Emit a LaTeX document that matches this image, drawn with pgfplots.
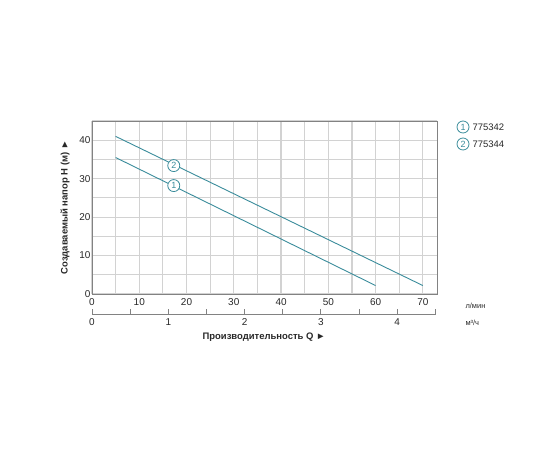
\documentclass[border=0pt]{standalone}
\usepackage{pgfplots}
\pgfplotsset{compat=1.18}
\usepackage{fontspec}
\setmainfont{Liberation Sans}
\definecolor{cl}{RGB}{58,140,155}
\definecolor{gridc}{RGB}{210,210,210}
\definecolor{framec}{RGB}{130,130,130}
\definecolor{txt}{RGB}{40,40,40}
\begin{document}
\begin{tikzpicture}[x=1bp,y=1bp]
\useasboundingbox (0,0) rectangle (560,460);
\begin{axis}[
  at={(92bp,166bp)}, anchor=south west,
  scale only axis, width=345bp, height=173bp,
  xmin=0, xmax=73, ymin=0, ymax=45,
  xtick={0,10,...,70}, ytick={0,10,...,40},
  minor xtick={5,15,...,65}, minor ytick={5,15,...,45},
  grid=both,
  major grid style={gridc, line width=1.2bp},
  minor grid style={gridc, line width=1.2bp},
  axis line style={framec, line width=0.8bp},
  tick style={draw=none},
  ticklabel style={font=\fontsize{10}{11}\selectfont, text=txt},
  /pgf/number format/assume math mode=true,
  xticklabel style={yshift=-1bp},
  yticklabel style={xshift=2bp},
  ylabel={\textbf{Создаваемый напор H (м) ►}},
  ylabel style={font=\fontsize{9.5}{11}\selectfont, text=txt, yshift=3bp},
  clip=false,
]
\addplot[cl, line width=0.9bp] coordinates {(5,35.5) (60,2.2)};
\addplot[cl, line width=0.9bp] coordinates {(5,41.0) (70,2.2)};
\node[circle, draw=cl, fill=white, line width=0.8bp, inner sep=0.6bp, minimum size=12bp, text=cl, font=\fontsize{9}{10}\selectfont] at (axis cs:17.3,33.4) {2};
\node[circle, draw=cl, fill=white, line width=0.8bp, inner sep=0.6bp, minimum size=12bp, text=cl, font=\fontsize{9}{10}\selectfont] at (axis cs:17.3,28.2) {1};
\end{axis}
\begin{axis}[
  at={(92bp,146bp)}, anchor=south west,
  scale only axis, width=344bp, height=10bp,
  xmin=0, xmax=4.51, ymin=0, ymax=1,
  axis x line*=bottom, hide y axis,
  xtick={0,1,2,3,4}, minor xtick={0.5,1.5,2.5,3.5,4.5},
  axis line style={framec, line width=0.8bp, -},
  tick style={framec, line width=0.8bp},
  major tick length=5bp, minor tick length=5bp,
  tick align=inside,
  ticklabel style={font=\fontsize{10}{11}\selectfont, text=txt},
  xticklabel style={yshift=-1bp},
  /pgf/number format/assume math mode=true,
  xlabel={\textbf{Производительность Q ►}},
  xlabel style={font=\fontsize{9.5}{11}\selectfont, text=txt, yshift=0bp},
]
\addplot[draw=none] coordinates {(0,0) (4.5,0)};
\end{axis}
\node[font=\fontsize{7.5}{8}\selectfont, text=txt, anchor=west] at (462,154) {л/мин};
\node[font=\fontsize{7.5}{8}\selectfont, text=txt, anchor=west] at (462,137) {м³/ч};
\node[circle, draw=cl, line width=0.8bp, inner sep=0.6bp, minimum size=12bp, text=cl, font=\fontsize{9}{10}\selectfont] at (463,333) {1};
\node[font=\fontsize{9.5}{10}\selectfont, text=txt, anchor=west] at (469,333) {775342};
\node[circle, draw=cl, line width=0.8bp, inner sep=0.6bp, minimum size=12bp, text=cl, font=\fontsize{9}{10}\selectfont] at (463,316) {2};
\node[font=\fontsize{9.5}{10}\selectfont, text=txt, anchor=west] at (469,316) {775344};
\end{tikzpicture}
\end{document}
